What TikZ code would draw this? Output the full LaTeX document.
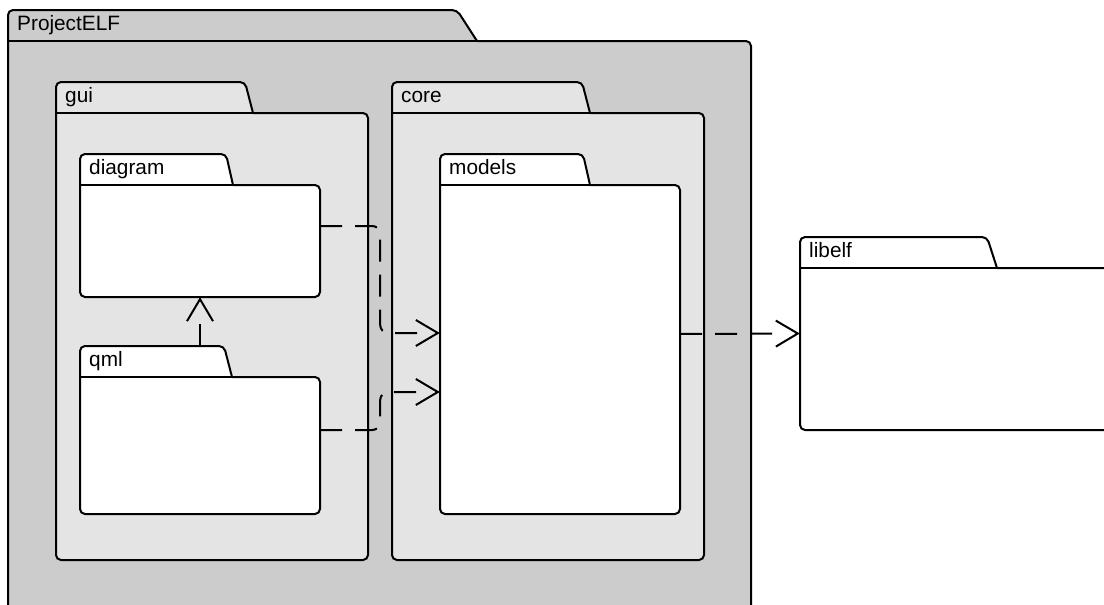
\documentclass[tikz,border=0pt]{standalone}
\usepackage{fontspec}
\setmainfont{Liberation Sans}
\usetikzlibrary{arrows.meta,decorations.markings,calc}

\definecolor{outerfill}{RGB}{204,204,204}
\definecolor{innerfill}{RGB}{228,228,228}

\tikzset{
  pkgline/.style={line width=2pt, line join=round, line cap=round},
  pkglabel/.style={anchor=base west, inner sep=0pt, font=\fontsize{20.8}{24}\selectfont},
  dep/.style={line width=2pt, dash pattern=on 22pt off 13pt, rounded corners=8pt,
    shorten >=22pt,
    postaction={decorate, decoration={markings,
      mark=at position 1 with {\arrow[solid, line width=2pt]{Straight Barb[length=22pt,width=26pt]}}}}},
}

% UML package: name, fill, label, left, tab top, tab top right, tab foot, right, bottom
% (the tab is 31pt high)
\newcommand\umlpkg[9]{%
  \fill[#2, rounded corners=5pt] (#4,#5+31) -- (#4,#5) -- (#6,#5) -- (#7,#5+31)
     -- (#8,#5+31) -- (#8,#9) -- (#4,#9) -- cycle;
  \draw[pkgline, rounded corners=5pt] (#7,#5+31) -- (#8,#5+31) -- (#8,#9) -- (#4,#9)
     -- (#4,#5) -- (#6,#5) -- (#7,#5+31);
  \draw[pkgline] (#4,#5+31) -- (#7,#5+31);
  \node[name=#1, inner sep=0pt, minimum width={(#8-#4)*1pt},
        minimum height={(#9-#5-31)*1pt}] at ({(#4+#8)/2},{(#5+31+#9)/2}) {};
  \coordinate (#1-tabtop) at (#4,#5);
  \node[pkglabel, name=#1-label] at (#4+9,#5+20.5) {#3};
}

\begin{document}
\begin{tikzpicture}[x=1pt,y=-1pt]
  \useasboundingbox (0,0) rectangle (1104,605);

  \umlpkg{project}{outerfill}{ProjectELF}{8}{10}{457}{477}{751}{640}
  \umlpkg{gui}{innerfill}{gui}{56}{82}{245}{253}{368}{560}
  \umlpkg{core}{innerfill}{core}{392}{82}{582}{590}{704}{560}
  \umlpkg{diagram}{white}{diagram}{80}{154}{226}{233}{320}{297}
  \umlpkg{qml}{white}{qml}{80}{346}{224}{232}{320}{514}
  \umlpkg{models}{white}{models}{440}{154}{583}{590}{680}{514}
  \umlpkg{libelf}{white}{libelf}{800}{237}{987}{997}{1120}{430}

  % dependencies
  \draw[dep] ([yshift=15pt]diagram.east) -- ++(60,0) |- ([yshift=16.5pt]models.west);
  \draw[dep] ([yshift=15.5pt]qml.east) -- ++(60,0) |- ([yshift=-42.5pt]models.west);
  \draw[dep] ([yshift=15.5pt]models.east) -- ([yshift=15.5pt]libelf.west);
  \draw[dep] (qml.north |- qml-tabtop) -- (diagram.south);
\end{tikzpicture}
\end{document}
